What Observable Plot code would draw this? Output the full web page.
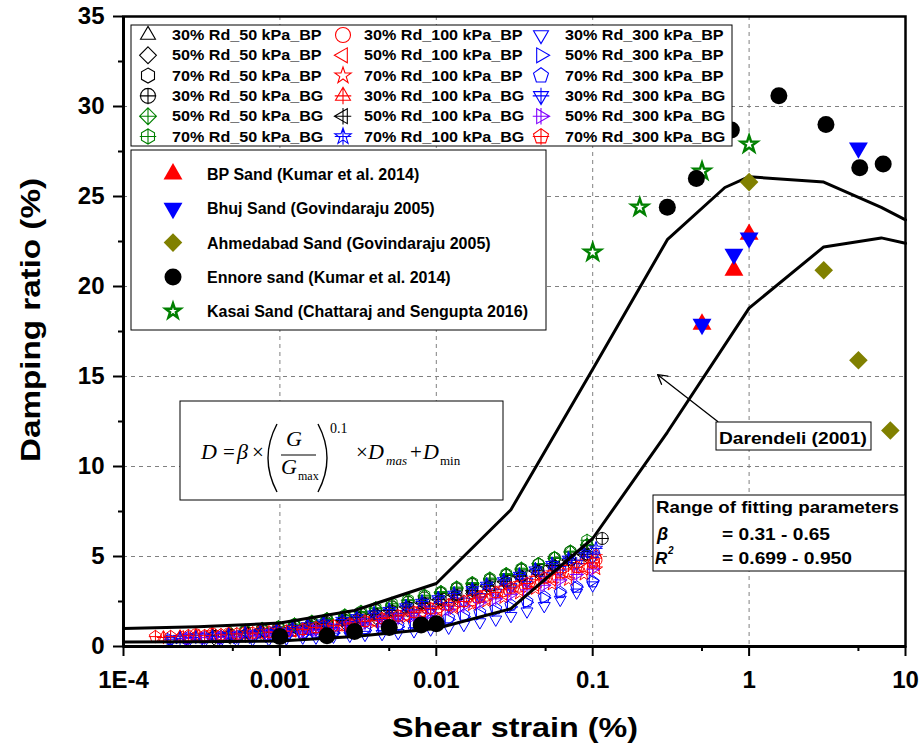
<!DOCTYPE html>
<html><head><meta charset="utf-8">
<script src="https://cdn.jsdelivr.net/npm/d3@7"></script>
<script src="https://cdn.jsdelivr.net/npm/@observablehq/plot@0.6"></script>
<style>html,body{margin:0;padding:0;background:#fff;} #chart{width:924px;height:748px;}</style>
</head><body><div id="chart"></div>
<script>
// ---------- axes ----------
const xTickValues = [1e-4, 1e-3, 1e-2, 1e-1, 1, 10];
const xTickLabels = ["1E-4", "0.001", "0.01", "0.1", "1", "10"];
const xMinorTicks = [5e-4, 5e-3, 5e-2, 0.5, 5];
const yTickValues = [0, 5, 10, 15, 20, 25, 30, 35];
const yMinorTicks = [2.5, 7.5, 12.5, 17.5, 22.5, 27.5, 32.5];

// ---------- laboratory data (shear strain %, damping %) ----------
const strain50  = [0.00019,0.00024,0.0003,0.00038,0.00048,0.0006,0.00077,0.00098,0.00124,0.0016,0.002,0.0026,0.0033,0.0041,0.0052,0.0066,0.0084,0.0107,0.0135,0.017,0.022,0.028,0.035,0.045,0.057,0.072,0.092,0.115];
const strain100 = [0.00018,0.00023,0.00029,0.00037,0.00047,0.0006,0.00075,0.00095,0.0012,0.0015,0.0019,0.0025,0.0031,0.004,0.005,0.0064,0.0081,0.0103,0.013,0.017,0.021,0.027,0.034,0.043,0.055,0.07,0.088,0.105];
const strain300 = [0.00016,0.0002,0.00026,0.00033,0.00042,0.00053,0.00067,0.00085,0.0011,0.0014,0.0017,0.0022,0.0028,0.0035,0.0045,0.0057,0.0072,0.0092,0.012,0.015,0.019,0.024,0.03,0.038,0.049,0.062,0.079,0.1];

const D_30Rd_50_BP  = [null,null,null,null,0.6,0.7,0.75,0.85,0.95,1.1,1.2,1.35,1.5,1.7,1.9,2.1,2.3,2.55,2.8,3.05,3.3,3.6,3.9,4.2,4.5,4.85,5.2,null];
const D_50Rd_50_BP  = [null,null,null,0.45,0.5,0.6,0.7,0.8,0.9,1.0,1.15,1.3,1.45,1.6,1.8,2.0,2.2,2.45,2.7,2.95,3.2,3.5,3.8,4.1,4.4,4.7,5.0,null];
const D_70Rd_50_BP  = [null,null,null,null,null,0.85,0.95,1.05,1.15,1.25,1.35,1.5,1.65,1.8,2.0,2.2,2.4,2.6,2.85,3.1,3.35,3.6,3.9,4.2,4.5,4.8,5.1,null];
const D_30Rd_50_BG  = [null,null,null,null,null,null,0.95,1.05,1.15,1.3,1.45,1.6,1.8,2.0,2.2,2.45,2.7,2.95,3.2,3.45,3.7,3.95,4.25,4.55,4.9,5.25,5.6,6.0];
const D_50Rd_50_BG  = [null,null,null,null,0.75,0.85,0.95,1.05,1.2,1.35,1.5,1.7,1.9,2.1,2.3,2.55,2.8,3.0,3.25,3.5,3.75,4.0,4.3,4.6,4.9,5.25,5.65,null];
const D_70Rd_50_BG  = [null,null,null,null,null,0.9,1.0,1.1,1.25,1.4,1.55,1.75,1.95,2.15,2.4,2.6,2.85,3.05,3.3,3.55,3.8,4.05,4.35,4.6,4.95,5.3,5.9,null];
const D_30Rd_100_BP = [null,null,0.65,0.7,0.7,0.75,0.8,0.85,0.9,1.0,1.1,1.2,1.35,1.5,1.65,1.8,2.0,2.2,2.4,2.6,2.85,3.1,3.35,3.6,3.9,4.2,4.5,4.8];
const D_50Rd_100_BP = [null,0.55,0.6,0.6,0.65,0.7,0.75,0.8,0.85,0.95,1.05,1.15,1.3,1.4,1.55,1.7,1.9,2.05,2.25,2.45,2.65,2.9,3.15,3.4,3.7,4.0,4.3,4.55];
const D_70Rd_100_BP = [null,0.5,0.6,0.75,0.7,0.7,0.75,0.8,0.85,0.9,1.0,1.1,1.2,1.3,1.45,1.6,1.75,1.95,2.1,2.3,2.5,2.7,2.95,3.2,3.45,3.7,4.0,4.3];
const D_30Rd_100_BG = [0.5,0.55,0.6,0.65,0.7,0.75,0.85,0.9,1.0,1.1,1.2,1.35,1.5,1.65,1.8,2.0,2.2,2.4,2.65,2.85,3.1,3.35,3.6,3.9,4.2,4.5,4.8,5.1];
const D_50Rd_100_BG = [null,null,null,0.6,0.65,0.75,0.85,0.95,1.05,1.15,1.3,1.45,1.6,1.8,2.0,2.2,2.4,2.6,2.85,3.1,3.35,3.6,3.9,4.2,4.5,4.8,5.1,null];
const D_70Rd_100_BG = [null,0.45,0.5,0.55,0.65,0.75,0.85,0.95,1.05,1.2,1.35,1.5,1.65,1.85,2.05,2.25,2.5,2.7,2.95,3.2,3.45,3.7,4.0,4.3,4.6,4.9,5.2,5.45];
const D_30Rd_300_BP = [null,0.3,0.3,0.3,0.35,0.35,0.4,0.4,0.45,0.5,0.5,0.55,0.6,0.65,0.7,0.75,0.85,0.95,1.05,1.2,1.35,1.5,1.7,1.95,2.25,2.6,3.0,3.4];
const D_50Rd_300_BP = [null,0.4,0.4,0.45,0.45,0.5,0.5,0.55,0.6,0.65,0.7,0.75,0.85,0.9,1.0,1.1,1.2,1.35,1.5,1.65,1.8,2.0,2.2,2.45,2.7,3.0,3.3,3.65];
const D_70Rd_300_BP = [null,null,0.5,0.5,0.55,0.55,0.6,0.65,0.7,0.75,0.8,0.85,0.9,1.0,1.1,1.2,1.3,1.45,1.6,1.75,1.9,2.1,2.3,2.5,2.75,3.0,3.3,3.6];
const D_30Rd_300_BG = [null,0.4,0.45,0.5,0.5,0.55,0.6,0.7,0.75,0.85,0.95,1.05,1.2,1.35,1.5,1.65,1.85,2.05,2.25,2.5,2.75,3.0,3.3,3.6,3.9,4.25,4.6,4.95];
const D_50Rd_300_BG = [null,null,0.45,0.5,0.5,0.55,0.6,0.65,0.7,0.8,0.9,1.0,1.1,1.25,1.4,1.55,1.7,1.85,2.05,2.25,2.45,2.65,2.9,3.15,3.4,3.7,4.0,4.3];
const D_70Rd_300_BG = [0.55,0.55,0.6,0.6,0.65,0.7,0.75,0.8,0.85,0.95,1.05,1.15,1.25,1.4,1.55,1.7,1.9,2.1,2.3,2.5,2.75,3.0,3.25,3.5,3.8,4.1,4.4,4.65];

const labNames  = ["30% Rd_50 kPa_BP","50% Rd_50 kPa_BP","70% Rd_50 kPa_BP","30% Rd_50 kPa_BG","50% Rd_50 kPa_BG","70% Rd_50 kPa_BG",
                   "30% Rd_100 kPa_BP","50% Rd_100 kPa_BP","70% Rd_100 kPa_BP","30% Rd_100 kPa_BG","50% Rd_100 kPa_BG","70% Rd_100 kPa_BG",
                   "30% Rd_300 kPa_BP","50% Rd_300 kPa_BP","70% Rd_300 kPa_BP","30% Rd_300 kPa_BG","50% Rd_300 kPa_BG","70% Rd_300 kPa_BG"];
const labColors = ["#000000","#000000","#000000","#000000","#008000","#008000",
                   "#ff0000","#ff0000","#ff0000","#ff0000","#000000","#0000ff",
                   "#0000ff","#0000ff","#0000ff","#0000ff","#8000ff","#ff0000"];
const labShapes = ["triUp","diamond","hexagon","circle","diamond","hexagon",
                   "circle","triLeft","star","triUp","triLeft","star",
                   "triDown","triRight","pentagon","triDown","triRight","pentagon"];
const labCross  = [false,false,false,true,true,true, false,false,false,true,true,true, false,false,false,true,true,true];
const labStrain = [strain50,strain50,strain50,strain50,strain50,strain50,
                   strain100,strain100,strain100,strain100,strain100,strain100,
                   strain300,strain300,strain300,strain300,strain300,strain300];
const labDamping = [D_30Rd_50_BP,D_50Rd_50_BP,D_70Rd_50_BP,D_30Rd_50_BG,D_50Rd_50_BG,D_70Rd_50_BG,
                    D_30Rd_100_BP,D_50Rd_100_BP,D_70Rd_100_BP,D_30Rd_100_BG,D_50Rd_100_BG,D_70Rd_100_BG,
                    D_30Rd_300_BP,D_50Rd_300_BP,D_70Rd_300_BP,D_30Rd_300_BG,D_50Rd_300_BG,D_70Rd_300_BG];

// ---------- Darendeli (2001) bounds ----------
const darUpperStrain = [1e-4, 3e-4, 1e-3, 3e-3, 1e-2, 3e-2, 0.1, 0.3, 0.7, 1, 3, 7, 10];
const darUpperD      = [1.0, 1.1, 1.3, 2.0, 3.5, 7.6, 15.4, 22.6, 25.5, 26.1, 25.8, 24.4, 23.7];
const darLowerStrain = [1e-4, 3e-4, 1e-3, 3e-3, 1e-2, 3e-2, 0.1, 0.3, 1, 3, 7, 10];
const darLowerD      = [0.25, 0.27, 0.3, 0.55, 1.0, 2.1, 6.0, 11.9, 18.8, 22.2, 22.7, 22.4];

// ---------- published data ----------
const bpStrain = [0.5, 0.8, 1.0];            const bpD = [17.9, 20.9, 22.9];
const bhujStrain = [0.5, 0.8, 1.0, 5.0];     const bhujD = [17.9, 21.8, 22.7, 27.7];
const ahmStrain = [1.0, 3.0, 5.0, 8.0];      const ahmD = [25.8, 20.9, 15.9, 12.0];
const ennStrain = [0.001, 0.002, 0.003, 0.005, 0.008, 0.01, 0.3, 0.46, 0.77, 1.55, 3.1, 5.1, 7.2];
const ennD      = [0.55, 0.6, 0.83, 1.05, 1.2, 1.27, 24.4, 26.0, 28.7, 30.6, 29.0, 26.6, 26.8];
const kasaiStrain = [0.1, 0.2, 0.5, 1.0];    const kasaiD = [21.9, 24.4, 26.4, 27.9];

const refNames = ["BP Sand (Kumar et al. 2014)","Bhuj Sand (Govindaraju 2005)","Ahmedabad Sand (Govindaraju 2005)","Ennore sand (Kumar et al. 2014)","Kasai Sand (Chattaraj and Sengupta 2016)"];

const arrowTail = [0.63, 12.5];
const arrowHead = [0.26, 15.1];

// ---------- symbols ----------
function poly(ctx, r, n, start) {
  for (let i = 0; i < n; i++) {
    const a = start + i * 2 * Math.PI / n;
    const x = r * Math.cos(a), y = r * Math.sin(a);
    if (i) ctx.lineTo(x, y); else ctx.moveTo(x, y);
  }
  ctx.closePath();
}
function drawShape(ctx, shape, r) {
  switch (shape) {
    case "circle": ctx.moveTo(r, 0); ctx.arc(0, 0, r, 0, 2 * Math.PI); ctx.closePath(); break;
    case "triUp": poly(ctx, r * 1.15, 3, -Math.PI / 2); break;
    case "triDown": poly(ctx, r * 1.15, 3, Math.PI / 2); break;
    case "triLeft": poly(ctx, r * 1.15, 3, Math.PI); break;
    case "triRight": poly(ctx, r * 1.15, 3, 0); break;
    case "diamond": poly(ctx, r * 1.12, 4, -Math.PI / 2); break;
    case "hexagon": poly(ctx, r, 6, -Math.PI / 2); break;
    case "pentagon": poly(ctx, r * 1.05, 5, -Math.PI / 2); break;
    case "star": {
      for (let i = 0; i < 10; i++) {
        const a = -Math.PI / 2 + i * Math.PI / 5;
        const rr = i % 2 ? r * 0.45 : r * 1.15;
        const x = rr * Math.cos(a), y = rr * Math.sin(a);
        if (i) ctx.lineTo(x, y); else ctx.moveTo(x, y);
      }
      ctx.closePath();
      break;
    }
  }
}
function symbolOf(shape, cross) {
  return {
    draw(ctx, size) {
      const r = Math.sqrt(size / Math.PI);
      drawShape(ctx, shape, r);
      if (cross) {
        const e = r * 1.1;
        ctx.moveTo(0, -e); ctx.lineTo(0, e);
        ctx.moveTo(-e, 0); ctx.lineTo(e, 0);
      }
    }
  };
}
const pts = (xs, ys) => xs.map((x, i) => ({x, y: ys[i]})).filter(p => p.y != null);

// ---------- marks ----------
const labMarks = labNames.map((n, k) => Plot.dot(pts(labStrain[k], labDamping[k]), {
  x: "x", y: "y", r: 6, symbol: symbolOf(labShapes[k], labCross[k]),
  stroke: labColors[k], fill: "none", strokeWidth: 1
}));

const plot = Plot.plot({
  width: 924, height: 748,
  marginLeft: 123, marginRight: 19, marginTop: 16, marginBottom: 102,
  x: {type: "log", domain: [1e-4, 10]},
  y: {domain: [0, 35]},
  style: {fontFamily: "'Liberation Sans', Arial, sans-serif", fontWeight: "bold", fontSize: "24px", background: "#fff", overflow: "visible", color: "#000"},
  marks: [
    Plot.gridX(xTickValues.slice(1, -1), {stroke: "#808080", strokeOpacity: 1, strokeDasharray: "4,4", strokeWidth: 1}),
    Plot.gridY(yTickValues.slice(1, -1), {stroke: "#808080", strokeOpacity: 1, strokeDasharray: "4,4", strokeWidth: 1}),
    ...labMarks,
    Plot.line(pts(darUpperStrain, darUpperD), {x: "x", y: "y", stroke: "#000", strokeWidth: 3}),
    Plot.line(pts(darLowerStrain, darLowerD), {x: "x", y: "y", stroke: "#000", strokeWidth: 3}),
    Plot.dot(pts(kasaiStrain, kasaiD), {x: "x", y: "y", r: 7.5, symbol: symbolOf("star", false), stroke: "#008000", fill: "#fff", strokeWidth: 2.5}),
    Plot.dot(pts(ahmStrain, ahmD), {x: "x", y: "y", r: 8.3, symbol: symbolOf("diamond", false), fill: "#808000", stroke: "none"}),
    Plot.dot(pts(ennStrain, ennD), {x: "x", y: "y", r: 8.5, symbol: symbolOf("circle", false), fill: "#000", stroke: "none"}),
    Plot.dot(pts(bpStrain, bpD), {x: "x", y: "y", r: 9.5, symbol: symbolOf("triUp", false), fill: "#ff0000", stroke: "none"}),
    Plot.dot(pts(bhujStrain, bhujD), {x: "x", y: "y", r: 9.5, symbol: symbolOf("triDown", false), fill: "#0000ff", stroke: "none"}),
    Plot.arrow([{x1: arrowTail[0], y1: arrowTail[1], x2: arrowHead[0], y2: arrowHead[1]}], {x1: "x1", y1: "y1", x2: "x2", y2: "y2", stroke: "#000", strokeWidth: 1.3, headLength: 12}),
    Plot.frame({stroke: "#000", strokeWidth: 2.5}),
    Plot.ruleX([1e-4], {stroke: "#000", strokeWidth: 3}),
    Plot.ruleY([0], {stroke: "#000", strokeWidth: 3}),
    Plot.axisX(xTickValues, {tickSize: 10, tickPadding: 14, strokeWidth: 2, label: null, tickFormat: d => xTickLabels[xTickValues.indexOf(d)]}),
    Plot.axisX(xMinorTicks, {tickSize: 5, strokeWidth: 2, label: null, tickFormat: () => ""}),
    Plot.axisY(yTickValues, {tickSize: 10, tickPadding: 9, strokeWidth: 2, label: null}),
    Plot.axisY(yMinorTicks, {tickSize: 5, strokeWidth: 2, label: null, tickFormat: () => ""})
  ]
});
document.getElementById("chart").appendChild(plot);

// ---------- overlays (titles, legends, annotations) ----------
const svg = d3.select(plot);
const sans = "'Liberation Sans', Arial, sans-serif";
const serif = "'Liberation Serif', 'Times New Roman', serif";

function stretch(sel, w) { sel.attr("textLength", w).attr("lengthAdjust", "spacingAndGlyphs"); }

// axis titles
const xt = svg.append("text").attr("x", 515).attr("y", 737).attr("text-anchor", "middle")
  .attr("font-family", sans).attr("font-weight", "bold").attr("font-size", 27).text("Shear strain (%)");
stretch(xt, 246);
const yt = svg.append("text").attr("transform", "translate(40,320) rotate(-90)").attr("text-anchor", "middle")
  .attr("font-family", sans).attr("font-weight", "bold").attr("font-size", 28).text("Damping ratio (%)");
stretch(yt, 284);

function symPath(g, shape, cross, r, x, y, stroke, fill, sw) {
  const p = d3.path();
  symbolOf(shape, cross).draw(p, r * r * Math.PI);
  g.append("path").attr("d", p.toString()).attr("transform", `translate(${x},${y})`)
    .attr("stroke", stroke).attr("fill", fill).attr("stroke-width", sw);
}

// legend 1
const L1 = svg.append("g").attr("text-anchor", "start");
L1.append("rect").attr("x", 131).attr("y", 25).attr("width", 601).attr("height", 121)
  .attr("fill", "#fff").attr("stroke", "#000").attr("stroke-width", 1);
const colSym = [148, 343, 541], colText = [172, 364, 565];
labNames.forEach((n, k) => {
  const c = Math.floor(k / 6), row = k % 6;
  const y = 35 + row * 20.3;
  symPath(L1, labShapes[k], labCross[k], 7.5, colSym[c], y, labColors[k], "none", 1.1);
  const t = L1.append("text").attr("x", colText[c]).attr("y", y + 5).attr("font-family", sans)
    .attr("font-weight", "bold").attr("font-size", 14.4).attr("fill", "#000").text(n);
  const w = t.node().getComputedTextLength();
  stretch(t, w * 1.12);
});

// legend 2
const L2 = svg.append("g").attr("text-anchor", "start");
L2.append("rect").attr("x", 131).attr("y", 150).attr("width", 415).attr("height", 180)
  .attr("fill", "#fff").attr("stroke", "#000").attr("stroke-width", 1);
const refSym = [["triUp", "#ff0000", "#ff0000", 9.5, 0], ["triDown", "#0000ff", "#0000ff", 9.5, 0],
                ["diamond", "#808000", "#808000", 8.3, 0], ["circle", "#000", "#000", 8.5, 0], ["star", "#008000", "#fff", 6.8, 2.5]];
refNames.forEach((n, k) => {
  const y = 174 + k * 34.3;
  const s = refSym[k];
  symPath(L2, s[0], false, s[3], 173, y, s[4] ? s[1] : "none", s[2], s[4]);
  L2.append("text").attr("x", 207).attr("y", y + 6).attr("font-family", sans)
    .attr("font-weight", "bold").attr("font-size", 16).attr("fill", "#000").text(n);
});

// formula box
const F = svg.append("g").attr("font-family", serif).attr("fill", "#000").attr("font-weight", "normal").attr("text-anchor", "start");
F.append("rect").attr("x", 180).attr("y", 401).attr("width", 323).attr("height", 99)
  .attr("fill", "#fff").attr("stroke", "#000").attr("stroke-width", 1);
function ft(x, y, s, size, italic) {
  F.append("text").attr("x", x).attr("y", y).attr("font-size", size)
    .attr("font-style", italic ? "italic" : "normal").text(s);
}
ft(201, 459, "D", 22, true);
ft(223, 459, "=", 21, false);
ft(237, 459, "β", 22, true);
ft(252, 459, "×", 21, false);
F.append("path").attr("d", "M277,424 Q259,458 277,492").attr("fill", "none").attr("stroke", "#000").attr("stroke-width", 1.4);
F.append("path").attr("d", "M318,424 Q336,458 318,492").attr("fill", "none").attr("stroke", "#000").attr("stroke-width", 1.4);
ft(286, 446, "G", 22, true);
F.append("line").attr("x1", 281).attr("x2", 316).attr("y1", 455).attr("y2", 455).attr("stroke", "#000").attr("stroke-width", 1.2);
ft(281, 474, "G", 22, true);
ft(298, 480, "max", 12, false);
ft(330, 433, "0.1", 14, false);
ft(356, 459, "×", 21, false);
ft(368, 459, "D", 22, true);
ft(386, 465, "mas", 13, true);
ft(410, 459, "+", 21, false);
ft(423, 459, "D", 22, true);
ft(440, 465, "min", 13, false);

// fitting parameters box
const P = svg.append("g").attr("font-family", sans).attr("font-weight", "bold").attr("fill", "#000").attr("text-anchor", "start");
P.append("rect").attr("x", 653).attr("y", 495).attr("width", 252).attr("height", 76)
  .attr("fill", "#fff").attr("stroke", "#000").attr("stroke-width", 1);
stretch(P.append("text").attr("x", 656).attr("y", 513).attr("font-size", 16.5).text("Range of fitting parameters"), 243);
P.append("text").attr("x", 657).attr("y", 540).attr("font-size", 18).attr("font-style", "italic").text("β");
stretch(P.append("text").attr("x", 722).attr("y", 540).attr("font-size", 16.5).text("= 0.31 - 0.65"), 108);
P.append("text").attr("x", 655).attr("y", 564).attr("font-size", 17).attr("font-style", "italic").text("R");
P.append("text").attr("x", 668).attr("y", 554).attr("font-size", 10).attr("font-style", "italic").text("2");
stretch(P.append("text").attr("x", 722).attr("y", 564).attr("font-size", 16.5).text("= 0.699 - 0.950"), 130);

// Darendeli label
const Dg = svg.append("g").attr("font-family", sans).attr("font-weight", "bold").attr("fill", "#000").attr("text-anchor", "start");
Dg.append("rect").attr("x", 716).attr("y", 422).attr("width", 155).attr("height", 28)
  .attr("fill", "#fff").attr("stroke", "#000").attr("stroke-width", 1);
stretch(Dg.append("text").attr("x", 719).attr("y", 444).attr("font-size", 16.5).text("Darendeli (2001)"), 148);
</script>
</body></html>
